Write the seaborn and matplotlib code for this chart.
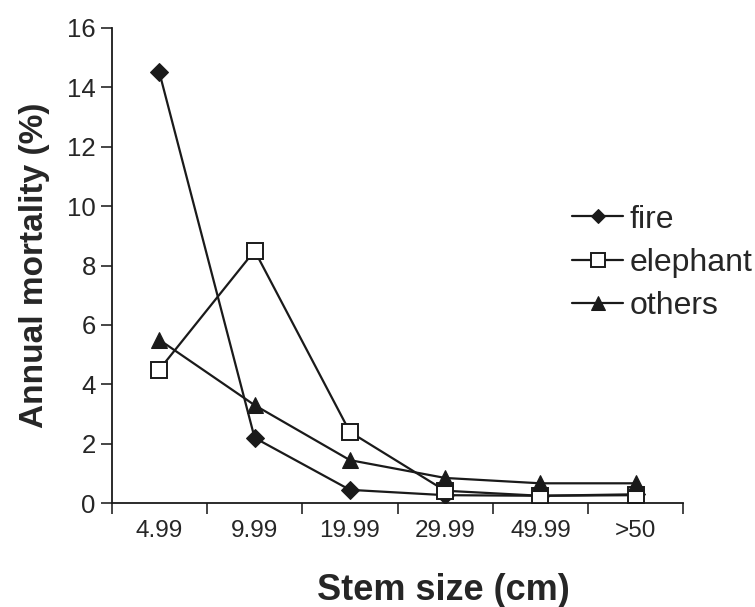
import numpy as np
import pandas as pd
import matplotlib
matplotlib.use('Agg')
import matplotlib.pyplot as plt
from matplotlib.ticker import FixedLocator
import seaborn as sns

# data
size_classes = ['4.99', '9.99', '19.99', '29.99', '49.99', '>50']
fire = [14.5, 2.2, 0.45, 0.27, 0.25, 0.3]
elephant = [4.5, 8.5, 2.4, 0.42, 0.25, 0.27]
others = [5.5, 3.3, 1.45, 0.85, 0.67, 0.67]

series = {'fire': fire, 'elephant': elephant, 'others': others}
df = pd.DataFrame([
    {'pos': i, 'size': s, 'cause': name, 'mortality': v}
    for name, vals in series.items()
    for i, (s, v) in enumerate(zip(size_classes, vals))
])

sns.set_style('ticks')
plt.rcParams['font.family'] = ['Liberation Sans', 'DejaVu Sans']

fig = plt.figure(figsize=(7.55, 6.07), dpi=100)
ax = fig.add_axes([0.148, 0.171, 0.757, 0.783])

styles = {
    'fire': dict(marker='D', markersize=9, markerfacecolor='#1a1a1a', markeredgecolor='#1a1a1a'),
    'elephant': dict(marker='s', markersize=12, markerfacecolor='white', markeredgecolor='#1a1a1a', markeredgewidth=1.4),
    'others': dict(marker='^', markersize=12, markerfacecolor='#1a1a1a', markeredgecolor='#1a1a1a'),
}
for name in series:
    sub = df[df['cause'] == name]
    sns.lineplot(data=sub, x='pos', y='mortality', ax=ax, color='#1a1a1a',
                 linewidth=1.6, label=name, **styles[name])

ax.set_xlim(-0.5, 5.5)
ax.set_ylim(0, 16)
ax.set_yticks(np.arange(0, 17, 2))
ax.set_xticks(range(len(size_classes)))
ax.set_xticklabels(size_classes)
ax.xaxis.set_minor_locator(FixedLocator(np.arange(-0.5, 5.6, 1)))
ax.tick_params(axis='x', which='major', length=0, labelsize=17.5, pad=12)
ax.tick_params(axis='x', which='minor', length=8, width=1.2, direction='out')
ax.tick_params(axis='y', length=8, width=1.2, direction='out', labelsize=18.5)
for sp in ['top', 'right']:
    ax.spines[sp].set_visible(False)
for sp in ['left', 'bottom']:
    ax.spines[sp].set_linewidth(1.3)
    ax.spines[sp].set_color('#1a1a1a')

ax.set_xlabel('Stem size (cm)', fontsize=26, fontweight='bold')
ax.xaxis.set_label_coords(0.58, -0.183)
ax.xaxis.label.set_va('center')
ax.set_ylabel('Annual mortality (%)', fontsize=24, fontweight='bold', labelpad=12)

ax.legend_.remove()
handles, labels = ax.get_legend_handles_labels()
fig.legend(handles, labels, loc='upper left', bbox_to_anchor=(0.758, 0.663),
           frameon=False, fontsize=23, handlelength=1.6, labelspacing=0.42,
           handletextpad=0.2, borderpad=0, borderaxespad=0, markerscale=0.8)

fig.savefig('out.png', dpi=100)
